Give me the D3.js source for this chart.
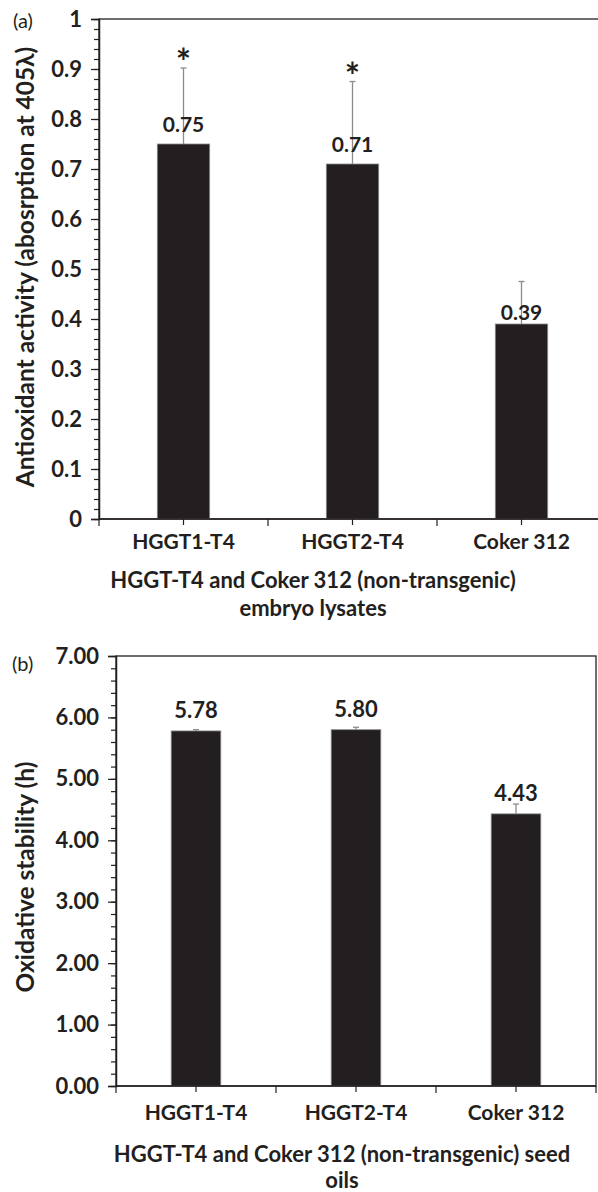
<!DOCTYPE html>
<html>
<head>
<meta charset="utf-8">
<script src="https://cdn.jsdelivr.net/npm/d3@7"></script>
<style>
  body { margin: 0; background: #fff; }
  text { font-family: Lato, "Open Sans", sans-serif; fill: #231f20; }
</style>
</head>
<body>
<div id="chart"></div>
<script>
// Data
var categories = ["HGGT1-T4", "HGGT2-T4", "Coker 312"];

var antioxValues = [0.75, 0.71, 0.39];
var antioxErrors = [0.152, 0.165, 0.085];
var antioxStars = ["*", "*", ""];
var antioxTicks = [0, 0.1, 0.2, 0.3, 0.4, 0.5, 0.6, 0.7, 0.8, 0.9, 1];

var stabValues = [5.78, 5.80, 4.43];
var stabErrors = [0.02, 0.04, 0.16];
var stabTicks = [0, 1, 2, 3, 4, 5, 6, 7];

var svgWidth = 598;
var svgHeight = 1192;

var svg = d3.select("#chart")
  .append("svg")
  .attr("width", svgWidth)
  .attr("height", svgHeight);

function drawPanel(cfg) {
  var g = svg.append("g")
    .attr("transform", `translate(${cfg.left}, ${cfg.top})`);

  var x = d3.scaleBand()
    .domain(categories)
    .range([0, cfg.width])
    .paddingInner(0.69)
    .paddingOuter(0.345);

  var y = d3.scaleLinear()
    .domain(cfg.domain)
    .range([cfg.height, 0]);

  // plot frame
  g.append("rect")
    .attr("x", 0)
    .attr("y", 0)
    .attr("width", cfg.width)
    .attr("height", cfg.height)
    .attr("fill", "none")
    .attr("stroke", "#231f20")
    .attr("stroke-width", 1.3);

  // bars
  g.selectAll(".bar")
    .data(cfg.values)
    .enter()
    .append("rect")
    .attr("class", "bar")
    .attr("x", function(d, i) { return x(categories[i]); })
    .attr("y", function(d) { return y(d); })
    .attr("width", x.bandwidth())
    .attr("height", function(d) { return cfg.height - y(d); })
    .attr("fill", "#231f20")
    .attr("stroke", "#8a8a8a")
    .attr("stroke-width", 0.8);

  // error bars (upper only)
  var cx = function(i) { return x(categories[i]) + x.bandwidth() / 2; };
  cfg.values.forEach(function(v, i) {
    var top = y(v + cfg.errors[i]);
    g.append("line")
      .attr("x1", cx(i)).attr("x2", cx(i))
      .attr("y1", y(v)).attr("y2", top)
      .attr("stroke", "#8c8c8c")
      .attr("stroke-width", 1.3);
    g.append("line")
      .attr("x1", cx(i) - 3).attr("x2", cx(i) + 3)
      .attr("y1", top).attr("y2", top)
      .attr("stroke", "#8c8c8c")
      .attr("stroke-width", 1.3);
  });

  // value labels
  g.selectAll(".val")
    .data(cfg.values)
    .enter()
    .append("text")
    .attr("class", "val")
    .attr("x", function(d, i) { return cx(i); })
    .attr("y", function(d, i) { return y(d) - cfg.labelGap[i]; })
    .attr("text-anchor", "middle")
    .attr("font-size", cfg.valueSize)
    .attr("font-weight", "bold")
    .text(function(d) { return d3.format(cfg.valueFmt)(d); });

  // significance stars
  if (cfg.stars) {
    g.selectAll(".star")
      .data(cfg.values)
      .enter()
      .append("text")
      .attr("x", function(d, i) { return cx(i); })
      .attr("y", function(d, i) { return y(d + cfg.errors[i]) + 7; })
      .attr("text-anchor", "middle")
      .attr("font-size", 36)
      .attr("font-weight", "bold")
      .text(function(d, i) { return cfg.stars[i]; });
  }

  // y axis: major and minor ticks
  var minorTicks = d3.range(cfg.domain[0], cfg.domain[1] + 1e-9, cfg.minorStep);
  g.append("g")
    .call(d3.axisLeft(y).tickValues(minorTicks).tickSize(5).tickFormat(""))
    .call(function(s) { s.select(".domain").remove(); })
    .selectAll("line").attr("stroke", "#231f20").attr("stroke-width", 1.2);

  var yAxis = g.append("g")
    .call(d3.axisLeft(y).tickValues(cfg.ticks).tickSize(8).tickPadding(9)
      .tickFormat(d3.format(cfg.tickFmt)));
  yAxis.select(".domain").attr("stroke", "#231f20").attr("stroke-width", 1.5);
  yAxis.selectAll("line").attr("stroke", "#231f20").attr("stroke-width", 1.2);
  yAxis.selectAll("text")
    .attr("font-size", cfg.tickSize)
    .attr("font-weight", "bold")
    .attr("font-family", "Lato, sans-serif")
    .attr("fill", "#231f20");

  // x axis: ticks at category centres and boundaries
  var xAxis = g.append("g")
    .attr("transform", `translate(0, ${cfg.height})`)
    .call(d3.axisBottom(x).tickSize(6));
  xAxis.select(".domain").remove();
  xAxis.selectAll("line").attr("stroke", "#231f20").attr("stroke-width", 1.2);
  xAxis.selectAll("text")
    .attr("y", cfg.catY)
    .attr("dy", null)
    .attr("font-size", cfg.catSize)
    .attr("font-weight", "bold")
    .attr("font-family", "Lato, sans-serif")
    .attr("fill", "#231f20");

  g.append("line")
    .attr("x1", 0).attr("x2", cfg.width)
    .attr("y1", cfg.height).attr("y2", cfg.height)
    .attr("stroke", "#231f20")
    .attr("stroke-width", 1.5);

  g.selectAll(".bound")
    .data(d3.range(categories.length + 1))
    .enter()
    .append("line")
    .attr("x1", function(d) { return d * x.step(); })
    .attr("x2", function(d) { return d * x.step(); })
    .attr("y1", cfg.height)
    .attr("y2", cfg.height + 7)
    .attr("stroke", "#231f20")
    .attr("stroke-width", 1.2);

  // y axis title
  g.append("text")
    .attr("transform", "rotate(-90)")
    .attr("x", -(cfg.height / 2 + cfg.yTitleShift))
    .attr("y", cfg.yTitleX - cfg.left)
    .attr("text-anchor", "middle")
    .attr("font-size", cfg.yTitleSize)
    .attr("font-weight", "bold")
    .text(cfg.yTitle);

  // x axis title (two lines)
  cfg.xTitle.forEach(function(line, i) {
    g.append("text")
      .attr("x", cfg.xTitleX - cfg.left)
      .attr("y", cfg.height + cfg.xTitleY + i * cfg.xTitleLead)
      .attr("text-anchor", "middle")
      .attr("font-size", 22)
      .attr("font-weight", "bold")
      .text(line);
  });

  // panel letter
  svg.append("text")
    .attr("x", cfg.letterX)
    .attr("y", cfg.top + cfg.letterDy)
    .attr("font-size", 20)
    .text(cfg.letter);
}

drawPanel({
  left: 99, top: 19, width: 507, height: 500,
  domain: [0, 1], minorStep: 0.02,
  values: antioxValues, errors: antioxErrors, stars: antioxStars,
  ticks: antioxTicks, tickFmt: "", valueFmt: ".2f",
  labelGap: [12, 12, 4],
  tickSize: 22, catSize: 21, catY: 30, valueSize: 21, yTitleSize: 24.5,
  yTitle: "Antioxidant activity (abosrption at 405λ)", yTitleX: 34, yTitleShift: -2,
  xTitle: ["HGGT-T4 and Coker 312 (non-transgenic)", "embryo lysates"],
  xTitleX: 313, xTitleY: 69, xTitleLead: 28,
  letter: "(a)", letterX: 13, letterDy: 9
});

drawPanel({
  left: 116, top: 656, width: 480, height: 430,
  domain: [0, 7], minorStep: 0.2,
  values: stabValues, errors: stabErrors, stars: null,
  ticks: stabTicks, tickFmt: ".2f", valueFmt: ".2f",
  labelGap: [13, 13, 13],
  tickSize: 22, catSize: 21, catY: 34, valueSize: 22, yTitleSize: 24.5,
  yTitle: "Oxidative stability (h)", yTitleX: 34, yTitleShift: 6,
  xTitle: ["HGGT-T4 and Coker 312 (non-transgenic) seed", "oils"],
  xTitleX: 342, xTitleY: 76, xTitleLead: 26,
  letter: "(b)", letterX: 12, letterDy: 15
});
</script>
</body>
</html>
